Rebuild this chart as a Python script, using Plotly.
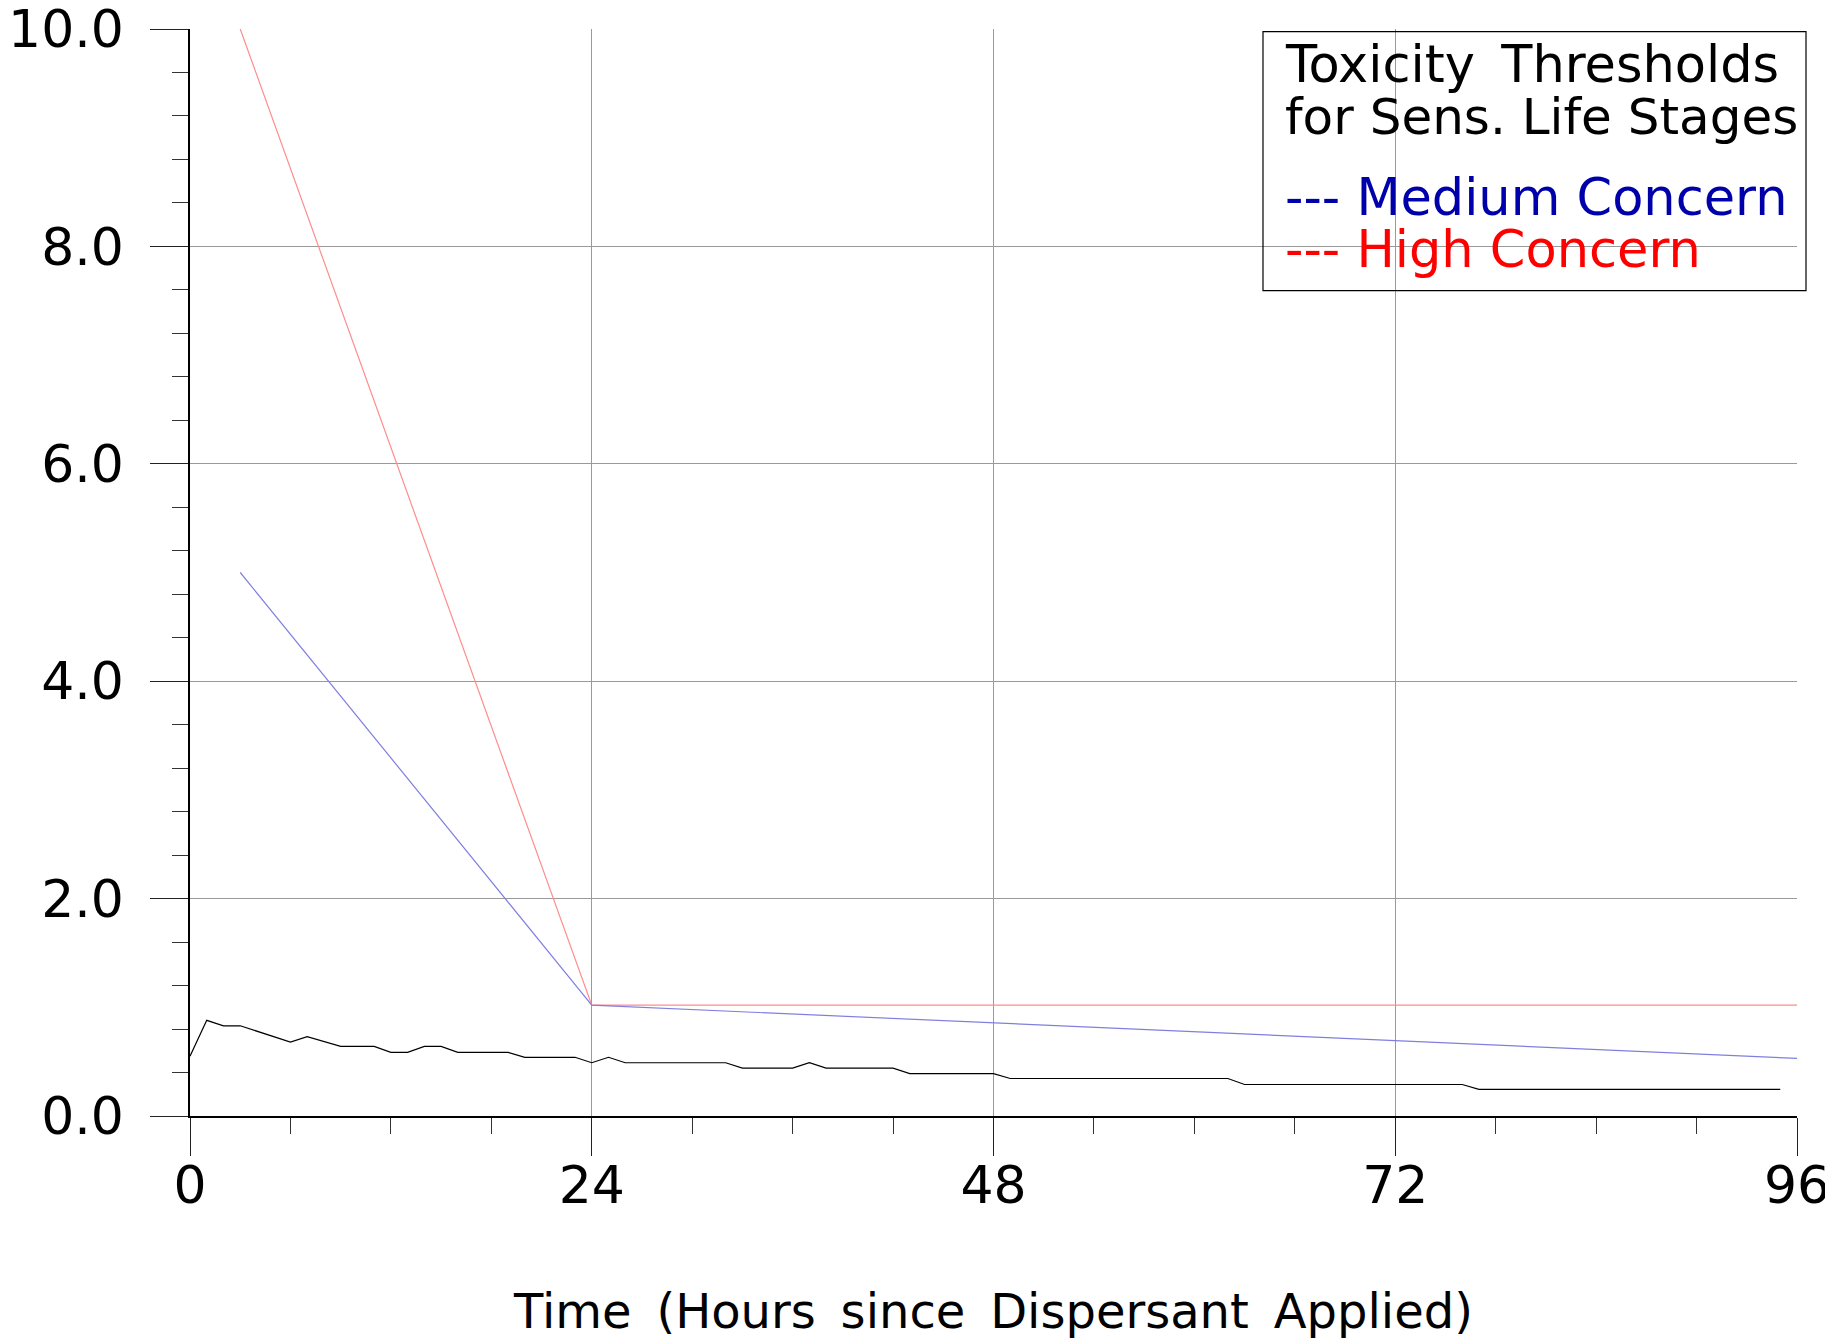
import plotly.graph_objects as go

# ---- data ----
conc_hours = [0, 1, 2, 3, 6, 7, 9, 11, 12, 13, 14, 15, 16, 19, 20, 23, 24, 25, 26, 32,
              33, 36, 37, 38, 42, 43, 48, 49, 62, 63, 76, 77, 95]
conc_values = [0.55, 0.88, 0.83, 0.83, 0.68, 0.73, 0.64, 0.64, 0.585, 0.585, 0.64, 0.64,
               0.585, 0.585, 0.54, 0.54, 0.49, 0.54, 0.49, 0.49, 0.44, 0.44, 0.49, 0.44,
               0.44, 0.39, 0.39, 0.345, 0.345, 0.29, 0.29, 0.245, 0.245]

high_hours = [3, 24, 96]
high_values = [10.0, 1.02, 1.02]

medium_hours = [3, 24, 96]
medium_values = [5.0, 1.02, 0.53]

x_tick_vals = [0, 24, 48, 72, 96]
x_tick_text = ["0", "24", "48", "72", "96"]
y_tick_vals = [0, 2, 4, 6, 8, 10]
y_tick_text = ["0.0", "2.0", "4.0", "6.0", "8.0", "10.0"]

x_title = "Time (Hours since Dispersant Applied)"
legend_lines = ["Toxicity Thresholds", "for Sens. Life Stages"]
medium_label = "--- Medium Concern"
high_label = "--- High Concern"

FONT = "DejaVu Sans"
WIDE_GAP = "\u00a0\u2009"   # slightly wide word gap like the reference
GAP = "\u00a0"

def spaced(s, gap=WIDE_GAP):
    return s.replace(" ", gap)

fig = go.Figure()
fig.add_trace(go.Scatter(x=high_hours, y=high_values, mode="lines",
                         line=dict(color="#ff8c8c", width=1.2), showlegend=False))
fig.add_trace(go.Scatter(x=medium_hours, y=medium_values, mode="lines",
                         line=dict(color="#7f7fe0", width=1.2), showlegend=False))
fig.add_trace(go.Scatter(x=conc_hours, y=conc_values, mode="lines",
                         line=dict(color="#000000", width=1.2), showlegend=False))

fig.update_layout(
    width=1825, height=1334,
    margin=dict(l=182, r=36, t=21, b=226, autoexpand=False),
    paper_bgcolor="white", plot_bgcolor="white",
    font=dict(family=FONT, size=48, color="black"),
)

fig.update_xaxes(
    range=[0, 96], tickvals=x_tick_vals, ticktext=x_tick_text,
    ticks="outside", ticklen=38, tickwidth=1.3, tickcolor="#222",
    showgrid=True, gridcolor="#9a9a9a", gridwidth=1.2,
    showline=True, linecolor="black", linewidth=1.5,
    zeroline=False, automargin=False, ticklabeloverflow="allow",
    minor=dict(dtick=6, ticks="outside", ticklen=16, tickwidth=1.2, tickcolor="#333", showgrid=False),
    tickfont=dict(family=FONT, size=52),
    ticklabelstandoff=-15,
    title=dict(text=spaced(x_title), font=dict(family=FONT, size=48), standoff=80),
)
fig.update_yaxes(
    range=[0, 10], tickvals=y_tick_vals, ticktext=y_tick_text,
    ticks="outside", ticklen=38, tickwidth=1.3, tickcolor="#222",
    showgrid=True, gridcolor="#9a9a9a", gridwidth=1.2,
    showline=True, linecolor="black", linewidth=1.5,
    zeroline=False, automargin=False, ticklabeloverflow="allow",
    minor=dict(dtick=0.4, ticks="outside", ticklen=16, tickwidth=1.2, tickcolor="#333", showgrid=False),
    tickfont=dict(family=FONT, size=52),
    ticklabelstandoff=16,
)

# legend box
fig.add_shape(type="rect", xref="paper", yref="paper",
              x0=0.6677, x1=1.0056, y0=0.7593, y1=0.9975,
              line=dict(color="black", width=1.2), fillcolor="rgba(0,0,0,0)")

def add_text(txt, ypos, color, size=51):
    fig.add_annotation(xref="paper", yref="paper", x=0.6801, y=ypos,
                       xanchor="left", yanchor="middle", showarrow=False,
                       text=txt,
                       font=dict(family=FONT, size=size, color=color))

add_text(spaced(legend_lines[0]), 0.9669, "black")
add_text(spaced(legend_lines[1], GAP), 0.9190, "black", 50)
add_text(spaced(medium_label, GAP), 0.8454, "#0000aa")
add_text(spaced(high_label, GAP), 0.7967, "#ff0000")

fig.write_html("out.html")
